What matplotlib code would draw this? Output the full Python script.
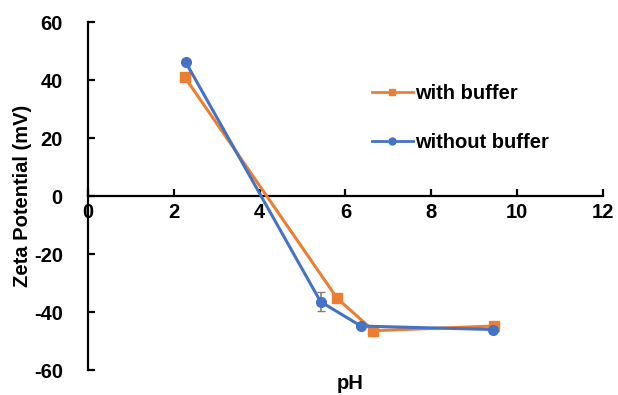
import numpy as np
import matplotlib.pyplot as plt
from matplotlib.lines import Line2D

plt.rcParams['font.family'] = ['Liberation Sans', 'DejaVu Sans']
plt.rcParams['font.weight'] = 'bold'
plt.rcParams['axes.unicode_minus'] = False

ph_buf = [2.26, 5.81, 6.65, 9.45]
zeta_buf = [41.0, -35.3, -46.4, -44.8]
ph_nobuf = [2.28, 5.42, 6.36, 9.43]
zeta_nobuf = [46.2, -36.4, -44.8, -46.0]
err_nobuf = [0, 3.2, 0, 0]

xticks = [0, 2, 4, 6, 8, 10, 12]
yticks = [-60, -40, -20, 0, 20, 40, 60]

orange = '#ED7D31'
blue = '#4472C4'
fs = 14.5

fig = plt.figure(figsize=(6.18, 3.95), dpi=100)
ax = fig.add_axes([0.142, 0.063, 0.834, 0.881])

ax.plot(ph_buf, zeta_buf, color=orange, marker='s', markersize=7,
        linewidth=2.2, zorder=3)
ax.errorbar(ph_nobuf, zeta_nobuf, yerr=err_nobuf, color=blue, marker='o',
            markersize=7, linewidth=2.2, ecolor='#7f7f7f', elinewidth=1.2,
            capsize=3, zorder=4)

ax.set_xlim(0, 12)
ax.set_ylim(-60, 60)
ax.set_xticks(xticks)
ax.set_yticks(yticks)
ax.spines['top'].set_visible(False)
ax.spines['right'].set_visible(False)
ax.spines['bottom'].set_position(('data', 0))
for s in ['left', 'bottom']:
    ax.spines[s].set_linewidth(1.6)
ax.tick_params(axis='both', direction='in', length=5, width=1.6, labelsize=fs,
               colors='black')
ax.tick_params(axis='y', pad=18)
ax.tick_params(axis='x', pad=5)
for lab in ax.get_xticklabels() + ax.get_yticklabels():
    lab.set_fontweight('bold')

ax.set_ylabel('Zeta Potential (mV)', fontsize=fs, fontweight='bold')
ax.yaxis.set_label_coords(-0.108, 0.5)
fig.text(0.566, 0.03, 'pH', fontsize=fs, fontweight='bold', ha='center', va='center')

handles = [Line2D([], [], color=orange, marker='s', markersize=5, linewidth=2),
           Line2D([], [], color=blue, marker='o', markersize=5, linewidth=2)]
ax.legend(handles, ['with buffer', 'without buffer'], loc='upper left',
          bbox_to_anchor=(0.517, 0.873), frameon=False, handlelength=2.0,
          handletextpad=0.1, labelspacing=1.45,
          prop={'weight': 'bold', 'size': fs})

fig.savefig('out.png', dpi=100)
